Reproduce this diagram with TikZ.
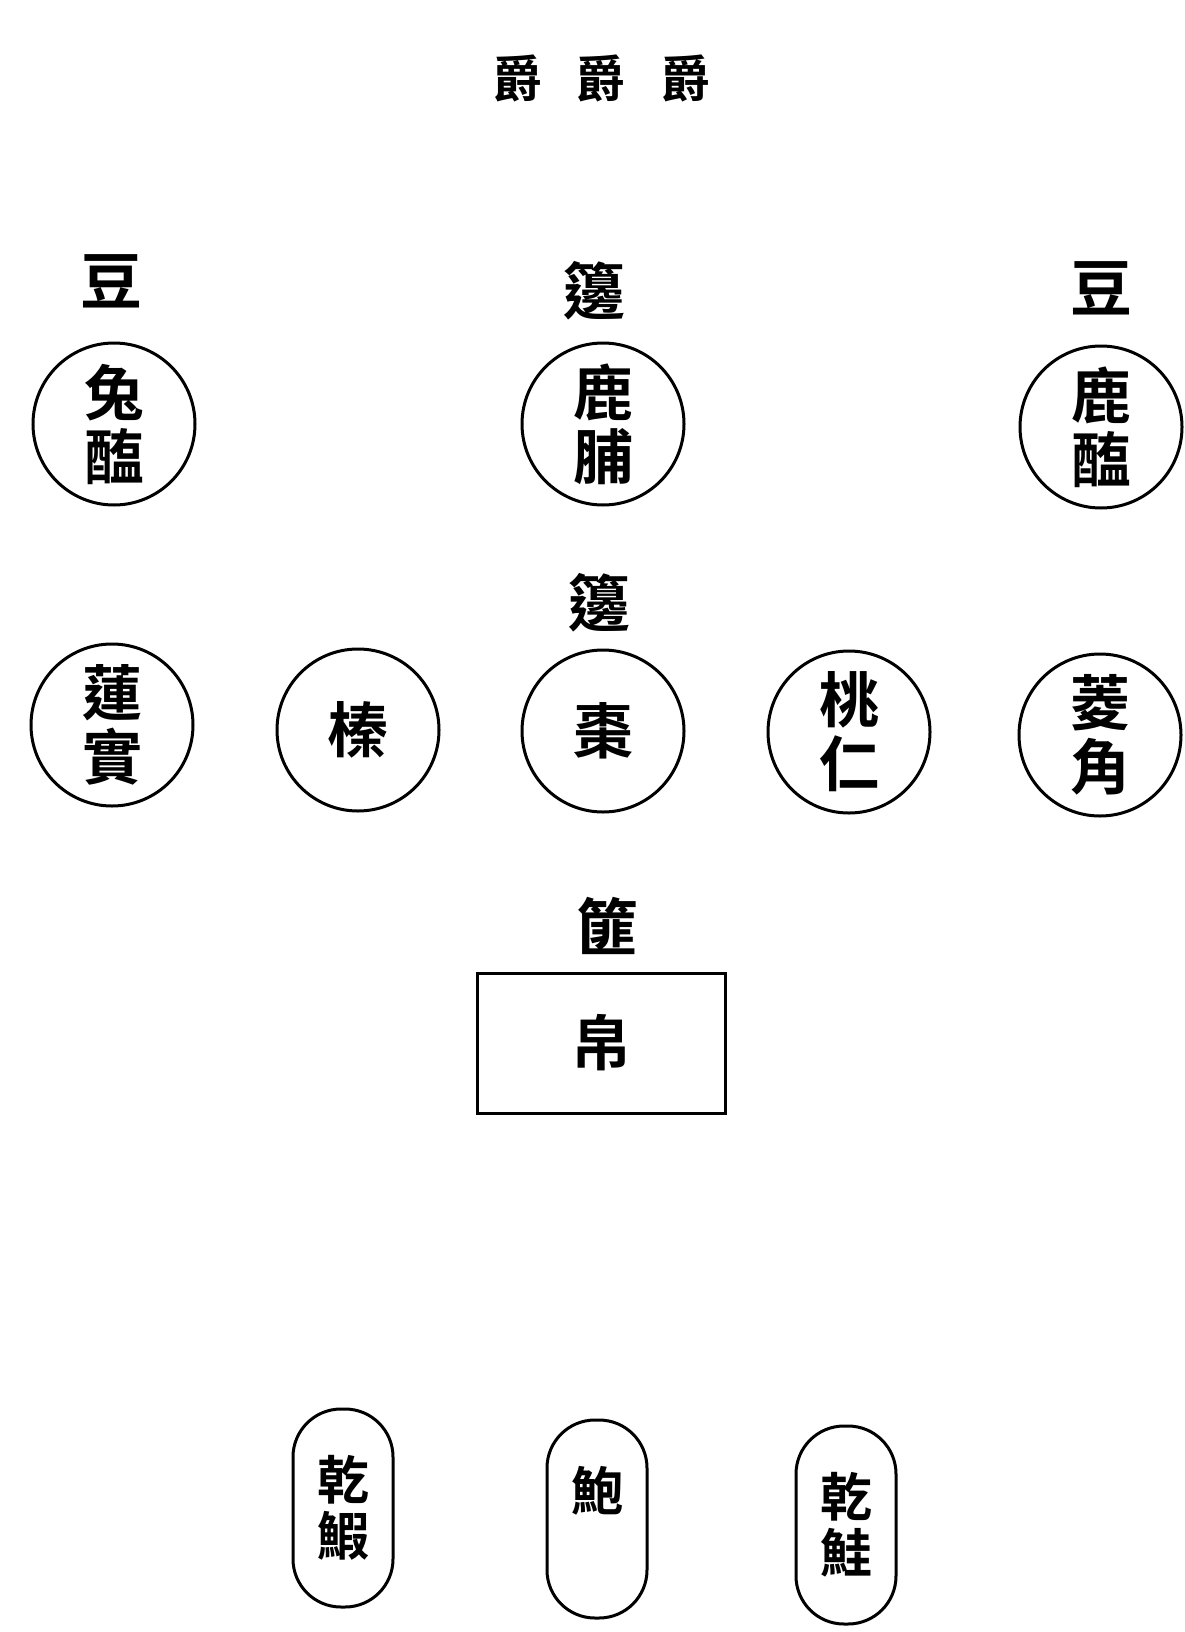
\documentclass[tikz,border=0pt]{standalone}
\usepackage{fontspec}
\newfontfamily\cjk{Noto Sans CJK TC}[BoldFont={* Bold}]
\usepackage{tikz}
\usetikzlibrary{positioning}

\begin{document}
\begin{tikzpicture}[x=1pt, y=-1pt,
    dia/.style={circle, draw, line width=3pt, minimum size=162pt, inner sep=0pt,
        align=center, font=\cjk\bfseries\fontsize{60}{64}\selectfont},
    nhan/.style={inner sep=0pt, font=\cjk\bfseries\fontsize{62}{64}\selectfont},
    tuoc/.style={inner sep=0pt, font=\cjk\bfseries\fontsize{50}{52}\selectfont},
    hop/.style={draw, line width=3pt, minimum width=248pt, minimum height=140pt,
        inner sep=0pt, font=\cjk\bfseries\fontsize{60}{62}\selectfont},
    bau/.style={draw, line width=3pt, rounded corners=48pt, minimum width=100pt,
        minimum height=198pt, inner sep=0pt, align=center,
        font=\cjk\bfseries\fontsize{52}{56}\selectfont}]
    \useasboundingbox (0,0) rectangle (1185,1632);

    % 1. Hàng tước
    \foreach \ten/\x in {tuocA/517, tuocB/600, tuocC/685} {
        \node[tuoc] (\ten) at (\x,78) {爵};
    }

    % 2. Hàng đậu, biên phía trên
    \node[dia] (thoHai) at (114,424) {兔\\醢};
    \node[dia] (locPhu) at (603,424) {鹿\\脯};
    \node[dia] (locHai) at (1101,427) {鹿\\醢};
    \node[nhan] (dauTrai) at (111,281) {豆};
    \node[nhan] (bienTren) at (594,291) {籩};
    \node[nhan] (dauPhai) at (1101,288) {豆};

    % 3. Hàng quả
    \foreach \ten/\x/\y/\chu in {lienThuc/112/725/{蓮\\實}, tran/358/730/{榛},
        tao/603/731/{棗}, daoNhan/849/732/{桃\\仁}, langGiac/1100/735/{菱\\角}} {
        \node[dia] (\ten) at (\x,\y) {\chu};
    }
    \node[nhan] (bienGiua) at (599,603) {籩};

    % 4. Phỉ, bạch
    \node[nhan] (phi) at (607,926) {篚};
    \node[hop] (bach) at (601,1043) {帛};

    % 5. Hàng dưới
    \node[bau] (canHa) at (343,1508) {乾\\鰕};
    \node[bau] (bao) at (597,1519) {鮑\\\phantom{鮑}};
    \node[bau] (canKhue) at (846,1525) {乾\\鮭};

\end{tikzpicture}
\end{document}
